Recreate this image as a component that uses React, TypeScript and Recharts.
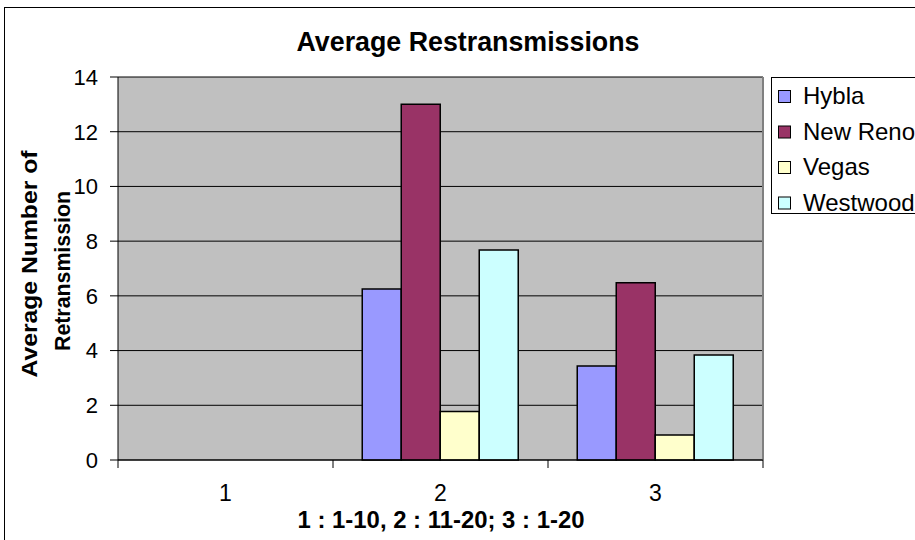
import React from "react";
import {
  BarChart,
  Bar,
  XAxis,
  YAxis,
  CartesianGrid,
  ReferenceLine,
} from "recharts";

// --- Data ---
const categories = ["1", "2", "3"];
const hybla = [0, 6.25, 3.44];
const newReno = [0, 13.0, 6.48];
const vegas = [0, 1.77, 0.91];
const westwood = [0, 7.68, 3.84];
const yTicks = [0, 2, 4, 6, 8, 10, 12, 14];

const seriesList = [
  { key: "Hybla", values: hybla, color: "#9999FF" },
  { key: "New Reno", values: newReno, color: "#993366" },
  { key: "Vegas", values: vegas, color: "#FFFFCC" },
  { key: "Westwood", values: westwood, color: "#CCFFFF" },
];

const chartData = categories.map((c, i) => {
  const row: Record<string, string | number> = { cat: c };
  seriesList.forEach((s) => (row[s.key] = s.values[i]));
  return row;
});

const FONT = "'Liberation Sans', Arial, sans-serif";
const W = 915;
const H = 540;
const MARGIN = { top: 77, right: 152, bottom: 40, left: 58 };
const Y_AXIS_W = 60;
const X_AXIS_H = 40;
const PLOT_W = W - MARGIN.left - MARGIN.right - Y_AXIS_W;
const BAND = PLOT_W / categories.length;

// category ticks sit between the groups, labels in the middle
const CategoryTick = ({ x, y, payload, index }: any) => (
  <g>
    <line x1={x - BAND / 2} x2={x - BAND / 2} y1={y} y2={y + 8} stroke="#000" />
    {index === categories.length - 1 && (
      <line x1={x + BAND / 2} x2={x + BAND / 2} y1={y} y2={y + 8} stroke="#000" />
    )}
    <text x={x} y={y + 41} textAnchor="middle" fontSize={23} fontFamily={FONT} fill="#000">
      {payload.value}
    </text>
  </g>
);

// frame, titles and legend drawn over the chart
const Overlay = () => (
  <svg
    width={W}
    height={H}
    style={{ position: "absolute", left: 0, top: 0, pointerEvents: "none" }}
    fontFamily={FONT}
  >
    <rect x={4.5} y={7.5} width={W + 20} height={H + 20} fill="none" stroke="#000" />
    <text
      x={468}
      y={51}
      textAnchor="middle"
      fontSize={27}
      fontWeight="bold"
      textLength={343}
      lengthAdjust="spacingAndGlyphs"
    >
      Average Restransmissions
    </text>
    <g transform="rotate(-90)">
      <text
        x={-264}
        y={37}
        textAnchor="middle"
        fontSize={22}
        fontWeight="bold"
        textLength={227}
        lengthAdjust="spacingAndGlyphs"
      >
        Average Number of
      </text>
      <text
        x={-271}
        y={70}
        textAnchor="middle"
        fontSize={22}
        fontWeight="bold"
        textLength={160}
        lengthAdjust="spacingAndGlyphs"
      >
        Retransmission
      </text>
    </g>
    <text
      x={441}
      y={528}
      textAnchor="middle"
      fontSize={23}
      fontWeight="bold"
      textLength={287}
      lengthAdjust="spacingAndGlyphs"
    >
      1 : 1-10, 2 : 11-20; 3 : 1-20
    </text>
    <rect x={771.5} y={77.5} width={200} height={136} fill="#fff" stroke="#000" />
    {seriesList.map((s, i) => (
      <g key={s.key}>
        <rect x={778.5} y={90.5 + i * 35.5} width={12} height={12} fill={s.color} stroke="#000" />
        <text x={803} y={104 + i * 35.5} fontSize={24}>
          {s.key}
        </text>
      </g>
    ))}
  </svg>
);

export default function App() {
  return (
    <div
      style={{
        position: "absolute",
        left: 0,
        top: 0,
        width: W,
        height: H,
        overflow: "hidden",
        background: "#fff",
      }}
    >
      <BarChart
        width={W}
        height={H}
        data={chartData}
        margin={MARGIN}
        barGap={0}
        barCategoryGap="13.6%"
      >
        <CartesianGrid fill="#C0C0C0" fillOpacity={1} stroke="#000" vertical={false} />
        <XAxis
          dataKey="cat"
          height={X_AXIS_H}
          tickLine={false}
          tickSize={0}
          tickMargin={0}
          axisLine={{ stroke: "#000" }}
          tick={<CategoryTick />}
          interval={0}
        />
        <YAxis
          width={Y_AXIS_W}
          domain={[0, 14]}
          ticks={yTicks}
          interval={0}
          axisLine={{ stroke: "#000" }}
          tickLine={{ stroke: "#000" }}
          tickSize={8}
          tickMargin={12}
          tick={{ fill: "#000", fontSize: 22, fontFamily: FONT }}
        />
        <ReferenceLine x="3" position="end" stroke="#808080" strokeWidth={2} />
        {seriesList.map((s) => (
          <Bar
            key={s.key}
            dataKey={s.key}
            fill={s.color}
            stroke="#000"
            strokeWidth={1.5}
            isAnimationActive={false}
          />
        ))}
      </BarChart>
      <Overlay />
    </div>
  );
}
